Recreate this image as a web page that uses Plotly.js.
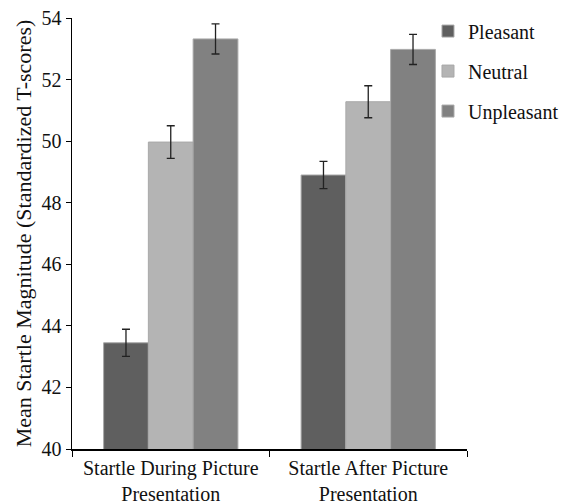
<!DOCTYPE html>
<html>
<head>
<meta charset="utf-8">
<script src="https://cdn.plot.ly/plotly-3.0.1.min.js"></script>
<style>html,body{margin:0;padding:0;background:#fff;}#chart{width:565px;height:503px;}</style>
</head>
<body>
<div id="chart"></div>
<script>
var categories = ["Startle During Picture<br>Presentation", "Startle After Picture<br>Presentation"];
var seriesNames = ["Pleasant", "Neutral", "Unpleasant"];
var pleasant = [43.45, 48.90];
var neutral = [49.97, 51.28];
var unpleasant = [53.32, 52.98];
var pleasantErr = [0.44, 0.44];
var neutralErr = [0.53, 0.52];
var unpleasantErr = [0.49, 0.49];
var yTicks = [40, 42, 44, 46, 48, 50, 52, 54];

var colors = ["#5f5f5f", "#b4b4b4", "#818181"];
var values = [pleasant, neutral, unpleasant];
var errs = [pleasantErr, neutralErr, unpleasantErr];

var traces = seriesNames.map(function (name, i) {
  return {
    type: "bar",
    name: name,
    x: categories,
    y: values[i],
    legendgroup: "g" + i,
    marker: {color: colors[i], line: {color: "#a8a8a8", width: 1}},
    error_y: {type: "data", array: errs[i], visible: true, color: "#222", thickness: 1.3, width: 4}
  };
});

var serif = "'Liberation Serif', serif";
var layout = {
  width: 565, height: 503,
  margin: {l: 72, r: 98, t: 18, b: 54, autoexpand: false},
  paper_bgcolor: "#fff", plot_bgcolor: "#fff",
  font: {family: serif, color: "#111", size: 20},
  barmode: "group",
  bargap: 0.32, bargroupgap: 0,
  showlegend: true,
  legend: {xref: "container", yref: "container", x: 0.7575, xanchor: "left", y: 0.977, yanchor: "top",
           font: {family: serif, size: 20, color: "#111"},
           tracegroupgap: 11, itemwidth: 30, bgcolor: "rgba(0,0,0,0)"},
  xaxis: {showline: true, linecolor: "#000", linewidth: 1.5, ticks: "outside", tickson: "boundaries",
          ticklen: 6, tickcolor: "#000",
          tickfont: {family: serif, size: 20, color: "#111"}, showgrid: false},
  yaxis: {range: [40, 54], tickvals: yTicks, showline: true, linecolor: "#000", linewidth: 1.5,
          ticks: "outside", ticklen: 5, tickcolor: "#000", showgrid: false, zeroline: false,
          tickfont: {family: serif, size: 20, color: "#111"},
          title: {text: "Mean Startle Magnitude (Standardized T-scores)", font: {family: serif, size: 22, color: "#111"}, standoff: 4}}
};

Plotly.newPlot("chart", traces, layout, {displayModeBar: false, staticPlot: true});
</script>
</body>
</html>
